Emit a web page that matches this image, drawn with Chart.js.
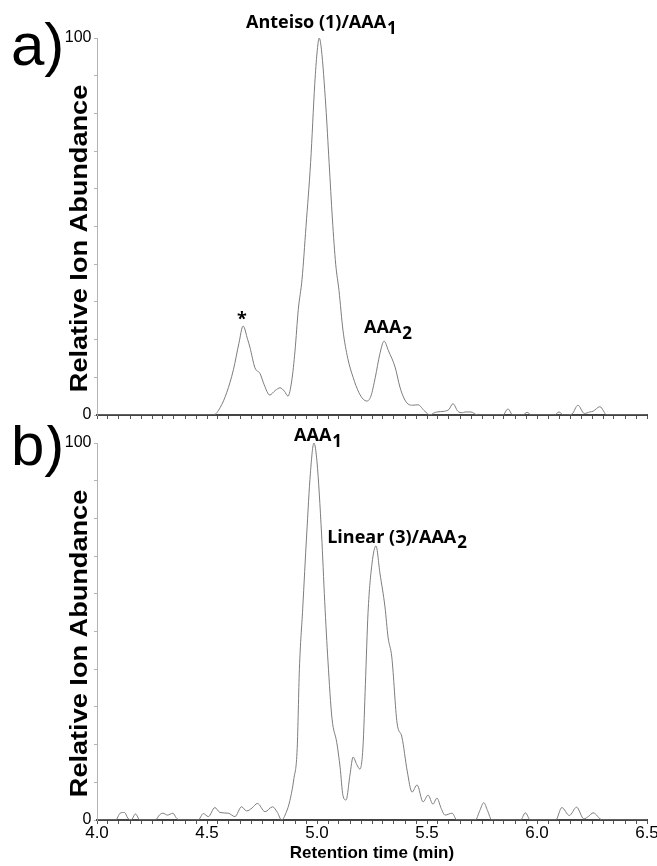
<!DOCTYPE html>
<html><head><meta charset="utf-8">
<script src="https://cdn.jsdelivr.net/npm/chart.js@4"></script>
<style>
html,body{margin:0;padding:0;background:#fff;}
#wrap{position:relative;width:657px;height:866px;overflow:hidden;background:#fff;}
canvas{position:absolute;left:0;}
</style></head><body>
<div id="wrap">
<canvas id="ca" width="657" height="425" style="top:0px"></canvas>
<canvas id="cb" width="657" height="441" style="top:425px"></canvas>
</div>
<script>
// ---- data ----
const timeA = [4.00,4.53,4.56,4.59,4.62,4.645,4.664,4.685,4.695,4.718,4.741,4.76,4.785,4.81,4.832,4.852,4.868,4.885,4.90,4.915,4.932,4.95,4.971,4.99,5.00,5.01,5.02,5.04,5.055,5.07,5.085,5.10,5.118,5.14,5.164,5.19,5.21,5.227,5.245,5.265,5.285,5.305,5.325,5.355,5.377,5.395,5.414,5.435,5.459,5.49,5.514,5.53,5.545,5.58,5.60,5.618,5.64,5.66,5.673,5.70,5.73,5.845,5.868,5.89,5.935,5.955,5.975,6.08,6.10,6.12,6.14,6.16,6.186,6.215,6.24,6.255,6.286,6.318,6.50];
const abundA = [0,0,2,6,12,19,23.6,20,18,12.5,11,8,5.3,6.5,7.2,6.3,5,9,17,28,36,50,67,88,96,100,97,82,67,52,40,33,22.5,15,10,6,4.2,3.7,5,10,16,19.6,17,12.7,7.4,4.5,2.9,2.6,2.7,1,0,0.5,0.8,1,1.5,3,1,0.6,0.8,0.8,0,0,1.6,0,0,0.7,0,0,0.8,0,0,0.3,2.6,0.4,0.8,1,2.2,0,0];

const timeB = [4.00,4.085,4.105,4.125,4.14,4.155,4.175,4.195,4.265,4.285,4.30,4.32,4.345,4.36,4.375,4.46,4.483,4.506,4.536,4.559,4.597,4.627,4.657,4.68,4.705,4.729,4.764,4.798,4.82,4.839,4.86,4.877,4.895,4.91,4.92,4.935,4.953,4.97,4.986,5.00,5.021,5.035,5.05,5.068,5.09,5.105,5.118,5.132,5.15,5.164,5.18,5.195,5.209,5.22,5.232,5.25,5.268,5.286,5.309,5.323,5.34,5.364,5.386,5.41,5.432,5.455,5.482,5.505,5.527,5.545,5.565,5.582,5.614,5.636,5.72,5.74,5.758,5.775,5.795,5.925,5.947,5.97,6.085,6.113,6.147,6.18,6.213,6.235,6.255,6.297,6.50];
const abundB = [0,0,1.8,2,0.5,0,1.6,0,0,1.4,1.8,1.3,1.8,0.6,0,0,1.7,0.9,3.3,2,1.8,0.9,3.5,2.4,3.2,4.4,2.2,3.5,2,0,2,5.2,11,19,40,56,75.6,92,100,95,75.6,58,42,27,20.5,14,6.5,5.3,12,16.7,14.8,13.5,19.4,36,55,68,72.7,65.5,56.5,48.5,43.2,25.7,22,13,7.4,9.3,4.8,6.6,4.2,5.8,3,1.3,1.8,0,0,2.5,4.6,2.5,0,0,1.9,0,0,3.3,1.2,3.4,0.3,1,1.9,0,0];

const xTickLabels = ['4.0','4.5','5.0','5.5','6.0','6.5'];
const yTickLabels = ['0','100'];

// peak annotations: text, subscript, anchor time, anchor level
const annTextA = ['Anteiso (1)/AAA', '*', 'AAA'];
const annSubA  = ['1', '', '2'];
const annTimeA = [5.020, 4.659, 5.323];
const annLevelA= [102.6, 23.9, 21.75];

const annTextB = ['AAA', 'Linear (3)/AAA'];
const annSubB  = ['1', '2'];
const annTimeB = [5.005, 5.364];
const annLevelB= [100.5, 73.5];

// ---- drawing ----
const SANS = '"Liberation Sans", Arial, sans-serif';
const ANN = '"Open Sans", "Noto Sans", sans-serif';

const textPlugin = {
  id: 'panelText',
  afterDraw(chart, args, o) {
    const ctx = chart.ctx, ca = chart.chartArea;
    const xs = chart.scales.x, ys = chart.scales.y;
    ctx.save();
    ctx.fillStyle = '#000';
    // panel letter
    ctx.font = '60px ' + SANS;
    ctx.textAlign = 'left';
    ctx.textBaseline = 'alphabetic';
    ctx.fillText(o.letter, o.letterX, o.letterY);
    // y-axis title (slightly widened bold sans)
    ctx.save();
    ctx.translate(ca.left - 10, (ca.top + ca.bottom) / 2 + 12);
    ctx.rotate(-Math.PI / 2);
    ctx.scale(1.13, 1);
    ctx.font = 'bold 24px ' + SANS;
    ctx.textAlign = 'center';
    ctx.textBaseline = 'alphabetic';
    ctx.fillText('Relative Ion Abundance', 0, 0);
    ctx.restore();
    // peak annotations
    ctx.textAlign = 'left';
    ctx.textBaseline = 'alphabetic';
    for (let i = 0; i < o.texts.length; i++) {
      const px = xs.getPixelForValue(o.times[i]);
      const py = ys.getPixelForValue(o.levels[i]);
      ctx.font = 'bold 18px ' + ANN;
      const w1 = ctx.measureText(o.texts[i]).width;
      ctx.font = 'bold 17px ' + ANN;
      const w2 = o.subs[i] ? ctx.measureText(o.subs[i]).width + 1 : 0;
      const x0 = px - (w1 + w2) / 2;
      ctx.font = 'bold 18px ' + ANN;
      ctx.fillText(o.texts[i], x0, py);
      if (o.subs[i]) {
        ctx.font = 'bold 17px ' + ANN;
        ctx.fillText(o.subs[i], x0 + w1 + 1, py + 5.5);
      }
    }
    ctx.restore();
  }
};

function xLabel(v) {
  const k = Math.round(v * 2);
  if (Math.abs(v * 2 - k) < 1e-6) {
    const s = (k / 2).toFixed(1);
    return xTickLabels.includes(s) ? s : '';
  }
  return '';
}
function yLabel(v) {
  const s = String(Math.round(v));
  return (Math.abs(v - Math.round(v)) < 1e-6 && yTickLabels.includes(s)) ? s : '';
}

function makePanel(id, times, values, cfg) {
  const pts = times.map((t, i) => ({x: t, y: values[i]}));
  return new Chart(document.getElementById(id), {
    type: 'line',
    data: { datasets: [{
      data: pts,
      borderColor: '#7d7d7d',
      borderWidth: 1,
      pointRadius: 0,
      fill: false,
      cubicInterpolationMode: 'monotone'
    }]},
    options: {
      responsive: false,
      animation: false,
      devicePixelRatio: 1,
      events: [],
      layout: { padding: { top: cfg.padTop, right: 10, left: 0, bottom: 0 } },
      plugins: {
        legend: { display: false },
        tooltip: { enabled: false },
        panelText: cfg.ann
      },
      scales: {
        x: {
          type: 'linear', min: 4.0, max: 6.5,
          border: { display: true, color: '#444', width: 2 },
          grid: { drawOnChartArea: false, drawTicks: true, tickLength: 4, color: '#555', tickColor: '#555' },
          ticks: {
            stepSize: 0.05, autoSkip: false, maxRotation: 0, minRotation: 0,
            color: '#000', padding: 1,
            font: { family: SANS, size: 17, lineHeight: 1.0 },
            callback: cfg.showX ? xLabel : () => ''
          },
          title: cfg.showX ? {
            display: true, text: 'Retention time (min)', color: '#000',
            font: { family: SANS, size: 17, weight: 'bold' },
            padding: { top: 0, bottom: 2 }
          } : { display: false },
          afterFit: (s) => { s.height = cfg.xHeight; s.paddingLeft = 0; s.paddingRight = 0; }
        },
        y: {
          type: 'linear', min: 0, max: 100,
          border: { display: true, color: '#b4b4b4', width: 1 },
          grid: { drawOnChartArea: false, drawTicks: true, tickLength: 3, color: '#b4b4b4', tickColor: '#b4b4b4' },
          ticks: {
            stepSize: 10, autoSkip: false, color: '#000', padding: 2.5,
            font: { family: SANS, size: 16 },
            callback: yLabel
          },
          afterFit: (s) => { s.width = 97; s.paddingTop = 0; s.paddingBottom = 0; }
        }
      }
    },
    plugins: [textPlugin]
  });
}

makePanel('ca', timeA, abundA, {
  padTop: 38, xHeight: 10, showX: false,
  ann: { letter: 'a)', letterX: 11, letterY: 65, texts: annTextA, subs: annSubA, times: annTimeA, levels: annLevelA }
});
makePanel('cb', timeB, abundB, {
  padTop: 18, xHeight: 46, showX: true,
  ann: { letter: 'b)', letterX: 11, letterY: 40, texts: annTextB, subs: annSubB, times: annTimeB, levels: annLevelB }
});
</script>
</body></html>
